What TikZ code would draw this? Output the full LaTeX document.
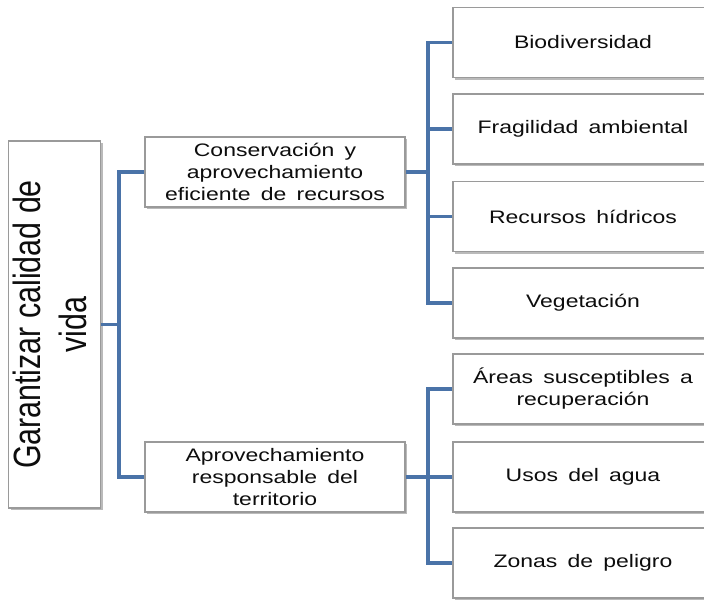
\documentclass[tikz,border=0pt]{standalone}
\usepackage{fontspec}
\setmainfont{Liberation Sans}[FakeStretch=1.27, WordSpace=1.6]
\newfontfamily\rootfont{Liberation Sans}
\usetikzlibrary{shadows}

\definecolor{branchblue}{HTML}{4A73A8}
\definecolor{boxgray}{HTML}{9A9A9A}

\tikzset{
	box/.style={draw=boxgray, fill=white, line width=0.6pt, align=center, inner sep=0pt,
		drop shadow={shadow xshift=1.2pt, shadow yshift=-1.2pt, opacity=0.45, fill=black!60},
		text=black!95, font=\fontsize{10.3}{12.5}\selectfont},
	leafbox/.style={box, minimum width=260*0.02cm, minimum height=70*0.02cm},
	branch/.style={draw=branchblue, line width=2.2pt}
}

\begin{document}
\begin{tikzpicture}[x=0.02cm, y=-0.02cm]
	\useasboundingbox (0,0) rectangle (704,600);

	% draw root
	\node[box, minimum width=367*0.02cm, minimum height=79*0.02cm, rotate=90] (root) at (54.5,324.5)
		{\rootfont\fontsize{17.3}{20.9}\selectfont\scalebox{1}[1.25]{\begin{tabular}{@{}c@{}}Garantizar calidad de\\vida\end{tabular}}};

	% draw middle nodes
	\node[leafbox] (c1) at (275,172) {Conservación y\\aprovechamiento\\eficiente de recursos};
	\node[leafbox] (c2) at (275,477) {Aprovechamiento\\responsable del\\territorio};

	% draw right nodes
	\node[leafbox] (b1) at (583,42.5) {Biodiversidad};
	\node[leafbox] (b2) at (583,129) {Fragilidad ambiental};
	\node[leafbox] (b3) at (583,216.5) {Recursos hídricos};
	\node[leafbox] (b4) at (583,303) {Vegetación};
	\node[leafbox] (a1) at (583,389) {Áreas susceptibles a\\recuperación};
	\node[leafbox] (a2) at (583,477) {Usos del agua};
	\node[leafbox] (a3) at (583,563) {Zonas de peligro};

	% draw connectors
	\coordinate (j0) at (119,324.5);
	\coordinate (j1) at (428,172);
	\coordinate (j2) at (428,477);
	\draw[branch] (root.south) -- (j0);
	\draw[branch] (c1.west) -| (j0) |- (c2.west);
	\draw[branch] (c1.east) -- (j1);
	\draw[branch] (b1.west) -| (j1) |- (b4.west);
	\foreach \n in {b2,b3} {
		\draw[branch] (\n.west) -- (\n.west -| j1);
	}
	\draw[branch] (c2.east) -- (j2);
	\draw[branch] (a1.west) -| (j2) |- (a3.west);
	\draw[branch] (a2.west) -- (a2.west -| j2);
\end{tikzpicture}
\end{document}
